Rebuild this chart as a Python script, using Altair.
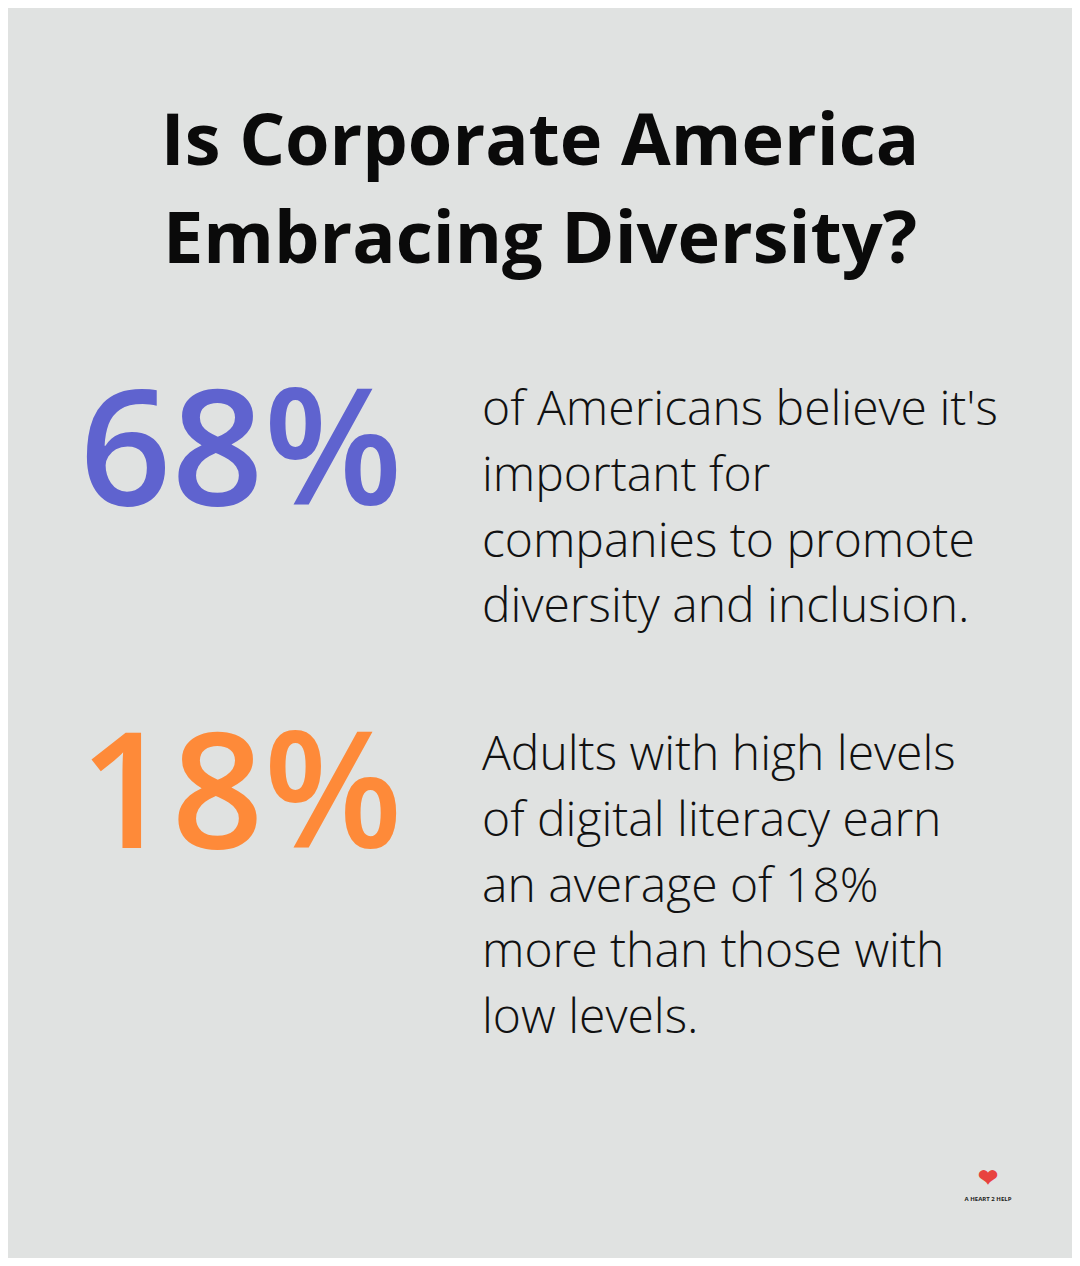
import altair as alt
import pandas as pd

# ---- content ----
title_lines = ["Is Corporate America", "Embracing Diversity?"]
stat_values = ["68%", "18%"]
stat_colors = ["#5f63cf", "#fe8a39"]
stat_texts = [
    ["of Americans believe it's", "important for", "companies to promote", "diversity and inclusion."],
    ["Adults with high levels", "of digital literacy earn", "an average of 18%", "more than those with", "low levels."],
]
logo_text = "A HEART 2 HELP"

# ---- layout (page pixels) ----
PAGE_W, PAGE_H = 1080, 1266
M = 8
W, H = PAGE_W - 2 * M, PAGE_H - 2 * M
BG = "#e0e2e1"
title_baselines = [165, 263]
stat_baselines = [505, 848]
body_first_baselines = [425, 770]
body_line_step = 65.8

rows_title = pd.DataFrame({"t": title_lines, "x": [540, 540], "y": title_baselines})
rows_stat = pd.DataFrame({"t": stat_values, "x": [241, 241], "y": stat_baselines, "c": stat_colors})
body = []
for bi, lines in enumerate(stat_texts):
    for li, line in enumerate(lines):
        body.append({"t": line, "x": 482, "y": body_first_baselines[bi] + li * body_line_step})
rows_body = pd.DataFrame(body)
rows_logo = pd.DataFrame({"t": ["\u2764", logo_text], "x": [988, 988], "y": [1186, 1201],
                          "c": ["#e8423f", "#222222"], "s": [24, 6]})

xs = alt.Scale(domain=[M, M + W], range=[0, W])
ys = alt.Scale(domain=[M, M + H], range=[0, H])

def enc(extra=None):
    d = dict(x=alt.X("x:Q", scale=xs, axis=None), y=alt.Y("y:Q", scale=ys, axis=None), text="t:N")
    if extra:
        d.update(extra)
    return d

title = alt.Chart(rows_title).mark_text(
    font="Open Sans", fontWeight="bold", fontSize=72, align="center", baseline="alphabetic", color="#0a0a0a"
).encode(**enc())

stats = alt.Chart(rows_stat).mark_text(
    font="Open Sans", fontWeight=600, fontSize=161, align="center", baseline="alphabetic"
).encode(**enc({"color": alt.Color("c:N", scale=None)}))

bodyc = alt.Chart(rows_body).mark_text(
    font="Open Sans", fontWeight=300, fontSize=48, align="left", baseline="alphabetic", color="#111111"
).encode(**enc())

logo = alt.Chart(rows_logo).mark_text(
    font="Open Sans", fontWeight="bold", align="center", baseline="alphabetic"
).encode(**enc({"color": alt.Color("c:N", scale=None), "size": alt.Size("s:Q", scale=None)}))

chart = alt.layer(title, stats, bodyc, logo).properties(
    width=W, height=H, background=BG, padding=0,
    autosize=alt.AutoSizeParams(type="none"),
).configure_view(stroke=None)

chart.save("out.html", embed_options={"renderer": "svg", "actions": False})
